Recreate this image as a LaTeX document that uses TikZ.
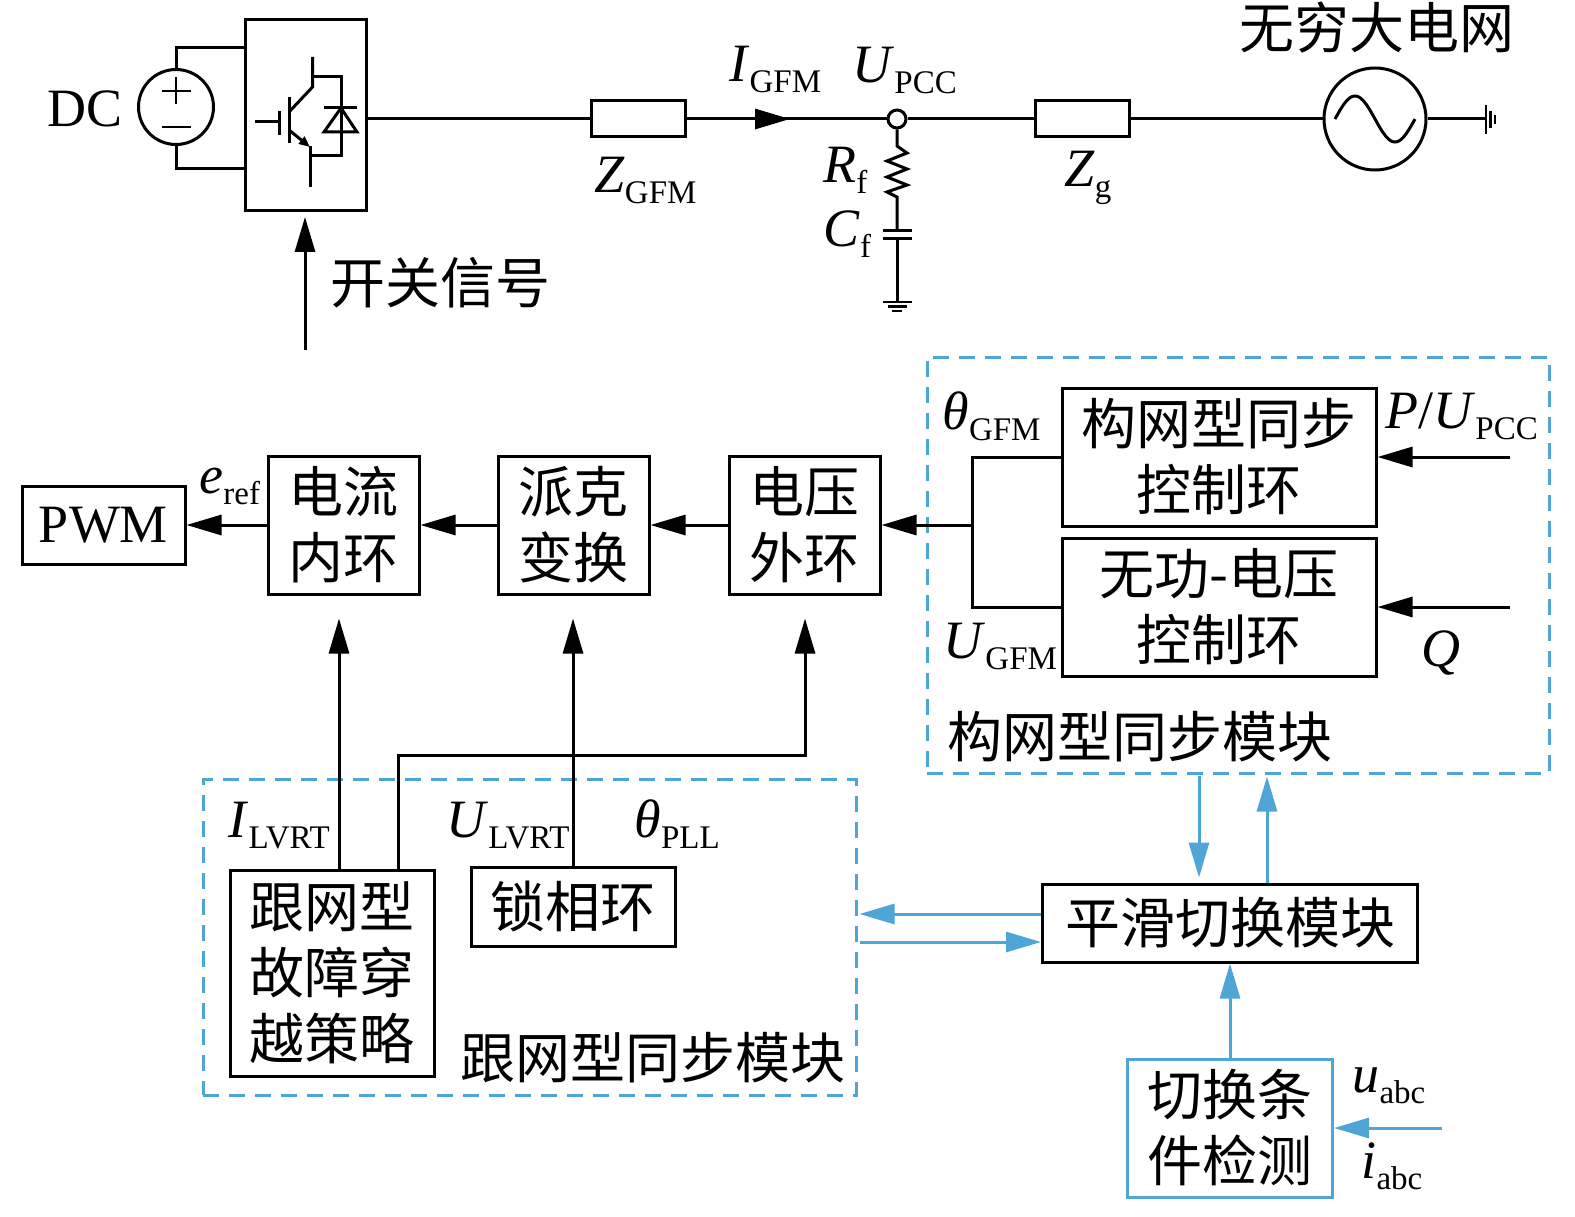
\documentclass[tikz,border=0pt]{standalone}
\usepackage{fontspec}
\setmainfont{Liberation Serif}
\newfontfamily\cjk{Noto Sans CJK SC}
\usetikzlibrary{arrows.meta,calc}
\definecolor{lblue}{RGB}{80,165,215}
\newcommand\sbs[1]{\raisebox{-11pt}{\fontsize{33}{36}\selectfont #1}}
\begin{document}
\begin{tikzpicture}[x=1pt,y=-1pt, line width=3pt,
  blk/.style={draw, line width=3pt, inner sep=0pt, align=center, font=\cjk\fontsize{55}{66}\selectfont},
  lab/.style={inner sep=0pt, font=\fontsize{54}{60}\selectfont},
  cjklab/.style={inner sep=0pt, font=\cjk\fontsize{55}{60}\selectfont},
  arr/.style={-{Triangle[length=35pt,width=20pt]}},
  barr/.style={-{Triangle[length=35pt,width=20pt]}, draw=lblue, line width=3pt},
  dashbox/.style={draw=lblue, dash pattern=on 16pt off 10pt, line width=3pt, inner sep=0pt},
]
\useasboundingbox (0,0) rectangle (1575,1217);

% ---------- top circuit ----------
\node[draw, minimum width=121pt, minimum height=191pt, inner sep=0pt] (conv) at (305.5,115.5) {};
\node[draw, circle, minimum size=75pt, inner sep=0pt] (dc) at (176,107) {};
\draw[line width=2.2pt] (162,91) -- (191,91) (176,77) -- (176,104) (162,127) -- (191,127);
\coordinate (c1) at (245,48);
\coordinate (c2) at (245,169);
\draw (dc.north) |- (c1);
\draw (dc.south) |- (c2);
\node[lab, anchor=base west] (dclab) at (46,127) {DC};

% IGBT + diode
\draw (255,122) -- (279,122);
\draw (279,111) -- (279,135);
\draw (289,97) -- (289,143);
\draw (289,112) -- (312.5,87) -- (312.5,57);
\draw (312.5,77) -- (341,77) -- (341,156) -- (310,156);
\draw[-{Triangle[length=11pt,width=9pt]}] (289,130) -- (310,147);
\draw (310,146) -- (310,187);
\draw (324,108) -- (357,108);
\draw[line join=miter] (341,108) -- (324,132) -- (357,132) -- cycle;

\coordinate (o1) at (366,119);
\node[draw, minimum width=94pt, minimum height=36pt, inner sep=0pt] (zgfm) at (638,119) {};
\node[draw, circle, minimum size=18pt, inner sep=0pt, fill=white] (pcc) at (897,119) {};
\node[draw, minimum width=94pt, minimum height=36pt, inner sep=0pt] (zg) at (1082,119) {};
\node[draw, circle, minimum size=102pt, inner sep=0pt] (ac) at (1375,119) {};
\coordinate (gr) at (1486,119);
\draw (o1) -- (zgfm.west);
\draw (zgfm.east) -- (pcc.west);
\draw[arr] (zgfm.east) -- (790,119);
\draw (pcc.east) -- (zg.west);
\draw (zg.east) -- (ac.west);
\draw (ac.east) -- (gr);
\draw[line width=2.4pt] (1486,105) -- (1486,134) (1490.5,111) -- (1490.5,128) (1495,115) -- (1495,124);
\draw plot[domain=0:360, samples=73, smooth] ({1335+\x/360*80},{119-23*sin(\x)});

% RC branch
\draw[line join=miter] (pcc.south) -- (897,146) -- (907,153) -- (887,161) -- (907,169) -- (887,177) -- (907,185) -- (887,192) -- (897,197) -- (897,231);
\draw (883,231) -- (912,231) (883,239) -- (912,239);
\draw (897,239) -- (897,302);
\draw[line width=2.4pt] (883,302) -- (912,302) (888,306.5) -- (907,306.5) (892,311) -- (902,311);

\coordinate (sw) at (305,350);
\draw[arr] (sw) -- (305,217);
\node[cjklab] (swlab) at (440,283) {开关信号};
\node[cjklab] (gridlab) at (1377,28) {无穷大电网};

\node[lab, anchor=base west] (igfm) at (728,82) {\textit{I}\sbs{GFM}};
\node[lab, anchor=base west] (upcc) at (851,83) {\textit{U}\sbs{PCC}};
\node[lab, anchor=base west] (zgfmlab) at (593,193) {\textit{Z}\sbs{GFM}};
\node[lab, anchor=base west] (rf) at (822,183) {\textit{R}\sbs{f}};
\node[lab, anchor=base west] (cf) at (822,247) {\textit{C}\sbs{f}};
\node[lab, anchor=base west] (zglab) at (1063,187) {\textit{Z}\sbs{g}};

% ---------- middle chain ----------
\node[blk, minimum width=163pt, minimum height=78pt, font=\fontsize{54}{60}\selectfont] (pwm) at (103.5,525) {PWM};
\node[blk, minimum width=151pt, minimum height=138pt] (cur) at (343.5,525) {电流\\内环};
\node[blk, minimum width=151pt, minimum height=138pt] (park) at (573.5,525) {派克\\变换};
\node[blk, minimum width=151pt, minimum height=138pt] (volt) at (804.5,525) {电压\\外环};
\draw[arr] (cur.west) -- (pwm.east);
\draw[arr] (park.west) -- (cur.east);
\draw[arr] (volt.west) -- (park.east);
\node[lab, anchor=base west] (eref) at (198,493) {\textit{e}\sbs{ref}};

% ---------- GFM module ----------
\node[dashbox, minimum width=622pt, minimum height=416pt] (gfm) at (1238,565) {};
\node[blk, minimum width=314pt, minimum height=138pt] (sync) at (1219,457) {构网型同步\\控制环};
\node[blk, minimum width=314pt, minimum height=138pt] (reac) at (1219,607) {无功-电压\\控制环};
\coordinate (bj) at (972,525);
\draw (sync.west) -| (bj);
\draw (reac.west) -| (bj);
\draw[arr] (bj) -- (volt.east);
\coordinate (pin) at (1510,457);
\coordinate (qin) at (1510,607);
\draw[arr] (pin) -- (sync.east);
\draw[arr] (qin) -- (reac.east);
\node[lab, anchor=base west] (thgfm) at (941,429) {\textit{θ}\sbs{GFM}};
\node[lab, anchor=base west] (pu) at (1384,428) {\textit{P}/\textit{U}\sbs{PCC}};
\node[lab, anchor=base west] (ugfm) at (942,658) {\textit{U}\sbs{GFM}};
\node[lab, anchor=base west] (qlab) at (1420,666) {\textit{Q}};
\node[cjklab] (gfmlab) at (1140,737) {构网型同步模块};

% ---------- GFL module ----------
\node[dashbox, minimum width=653pt, minimum height=316pt] (gfl) at (529.5,937) {};
\node[blk, minimum width=204pt, minimum height=206pt] (lvrt) at (332,973) {跟网型\\故障穿\\越策略};
\node[blk, minimum width=204pt, minimum height=79pt] (pll) at (573,906.5) {锁相环};
\draw[arr] ($(lvrt.north)+(7,0)$) -- ($(cur.south)+(-4.5,23)$);
\draw[arr] ($(lvrt.north)+(66,0)$) |- (805,755) -- ($(volt.south)+(0.5,23)$);
\draw[arr] (pll.north) -- ($(park.south)+(-0.5,23)$);
\node[lab, anchor=base west] (ilvrt) at (227,837) {\textit{I}\sbs{LVRT}};
\node[lab, anchor=base west] (ulvrt) at (445,837) {\textit{U}\sbs{LVRT}};
\node[lab, anchor=base west] (thpll) at (633,837) {\textit{θ}\sbs{PLL}};
\node[cjklab] (gfllab) at (653,1058) {跟网型同步模块};

% ---------- switching ----------
\node[blk, minimum width=375pt, minimum height=78pt] (smooth) at (1230,923) {平滑切换模块};
\node[blk, draw=lblue, minimum width=205pt, minimum height=138pt] (det) at (1230,1128) {切换条\\件检测};
\draw[barr] ($(gfm.south)+(-39,1)$) -- ($(smooth.north)+(-31,-5)$);
\draw[barr] ($(smooth.north)+(37,0)$) -- ($(gfm.south)+(29,2)$);
\draw[barr] ($(smooth.west)+(0,-9)$) -- ($(gfl.east)+(2,-23)$);
\draw[barr] ($(gfl.east)+(2,5)$) -- ($(smooth.west)+(0,19)$);
\draw[barr] (det.north) -- (smooth.south);
\coordinate (uin) at (1442,1128);
\draw[barr] (uin) -- (det.east);
\node[lab, anchor=base west] (uabc) at (1351,1092) {\textit{u}\sbs{abc}};
\node[lab, anchor=base west] (iabc) at (1360,1178) {\textit{i}\sbs{abc}};
\end{tikzpicture}
\end{document}
